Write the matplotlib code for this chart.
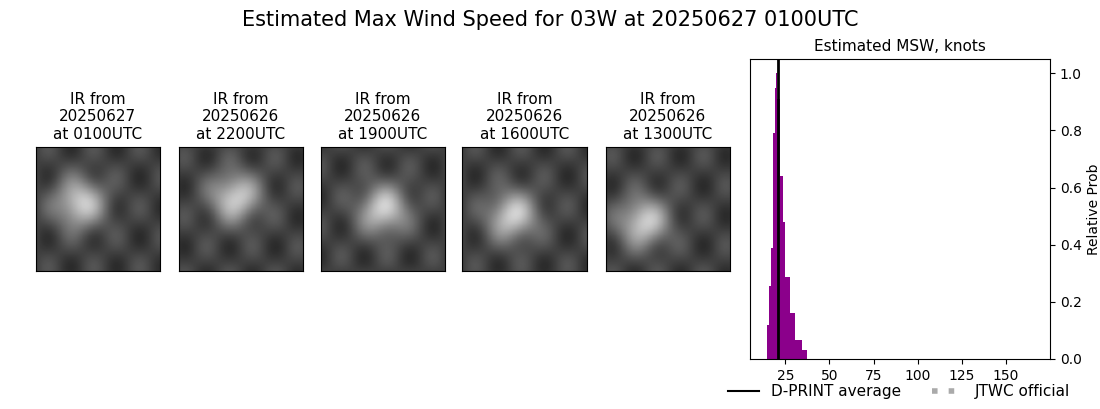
import numpy as np
import matplotlib
matplotlib.use("Agg")
import matplotlib.pyplot as plt
from matplotlib.lines import Line2D

titles = ["IR from\n20250627\nat 0100UTC", "IR from\n20250626\nat 2200UTC", "IR from\n20250626\nat 1900UTC",
          "IR from\n20250626\nat 1600UTC", "IR from\n20250626\nat 1300UTC"]
bin_edges = [14.8, 15.5, 16.7, 17.8, 18.9, 19.7, 20.5, 22.0, 23.5, 25.0, 27.7, 30.7, 34.5, 37.5]
probs = [0.12, 0.255, 0.39, 0.79, 0.95, 1.0, 0.91, 0.64, 0.48, 0.287, 0.16, 0.067, 0.03]
dprint_avg = 21.0

fig = plt.figure(figsize=(11, 4.09), dpi=100)
fig.suptitle("Estimated Max Wind Speed for 03W at 20250627 0100UTC", fontsize=15, y=0.975)

lefts = [35, 178, 320, 462, 605]
yy, xx = np.mgrid[0:100, 0:100] / 100.0
centers = [(0.35, 0.45), (0.45, 0.4), (0.5, 0.5), (0.4, 0.55), (0.3, 0.6)]
for i, (l, t) in enumerate(zip(lefts, titles)):
    ax = fig.add_axes([l / 1100, 1 - 271 / 409, 125 / 1100, 124 / 409])
    cx, cy = centers[i]
    img = 0.25 + 0.55 * np.exp(-((xx - cx) ** 2 + (yy - cy) ** 2) / 0.04) \
        + 0.08 * np.sin(xx * 17 + i) * np.cos(yy * 13 - i)
    ax.imshow(img, cmap="gray", vmin=0, vmax=1)
    ax.set_xticks([]); ax.set_yticks([])
    ax.set_title(t, fontsize=11)

ax = fig.add_axes([750 / 1100, 1 - 359 / 409, 300 / 1100, 300 / 409])
widths = np.diff(bin_edges)
ax.bar(bin_edges[:-1], probs, width=widths, align="edge", color="#8b008b")
ax.axvline(dprint_avg, color="black", lw=2)
ax.set_xlim(5, 175)
ax.set_ylim(0, 1.05)
ax.set_xticks([25, 50, 75, 100, 125, 150])
ax.yaxis.tick_right()
ax.yaxis.set_label_position("right")
ax.set_ylabel("Relative Prob")
ax.set_title("Estimated MSW, knots", fontsize=11)

handles = [Line2D([], [], color="black", lw=1.5),
           Line2D([], [], color="#aaaaaa", lw=4, ls=(0, (1, 2)))]
fig.legend(handles, ["D-PRINT average", "JTWC official"], loc="lower right",
           bbox_to_anchor=(0.985, -0.01), ncol=2, frameon=False, fontsize=11, columnspacing=2)
fig.savefig("out.png")
